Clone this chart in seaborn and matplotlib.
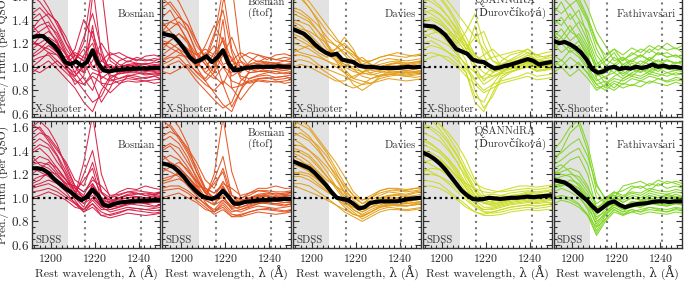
import numpy as np
import pandas as pd
import matplotlib
matplotlib.use("Agg")
import matplotlib.pyplot as plt
from matplotlib.ticker import MultipleLocator
import seaborn as sns

# ---------------- data ----------------
THIN_X = [1191.5, 1195, 1199, 1203, 1207, 1211, 1215, 1219, 1223, 1227, 1231, 1235, 1239, 1243, 1247, 1250]
MEAN_X = [1191.5, 1194, 1196.5, 1199, 1201.5, 1204, 1206.5, 1209, 1211.5, 1214, 1216.5, 1219,
          1221.5, 1224, 1226.5, 1229, 1231.5, 1234, 1236.5, 1239, 1241.5, 1244, 1246.5, 1249.5]

models = ["Bosman", "Bosman\n(ftof)", "Davies", "QSANNdRA\n(Ďurovčíková)", "Fathivavsari"]
colors = ["#d81b43", "#e4521c", "#e39d17", "#cadc1f", "#7fd620"]
surveys = ["X-Shooter", "SDSS"]

bosman_xs_mean = [1.25, 1.26, 1.26, 1.22, 1.18, 1.12, 1.04, 1.02, 1.045, 1.01, 1.04, 1.14,
                  1.03, 0.97, 0.96, 0.97, 0.975, 0.98, 0.98, 0.985, 0.985, 0.985, 0.99, 0.99]
bosman_xs_lines = [
    [1.45, 1.50, 1.42, 1.30, 1.15, 1.05, 1.20, 1.70, 1.10, 0.98, 1.00, 1.02, 1.03, 1.02, 1.04, 1.03],
    [1.30, 1.35, 1.38, 1.25, 1.10, 0.95, 0.85, 0.95, 0.92, 0.88, 0.90, 0.93, 0.92, 0.90, 0.92, 0.93],
    [1.20, 1.18, 1.12, 1.05, 0.98, 0.90, 0.80, 0.70, 0.75, 0.90, 0.95, 0.97, 0.96, 0.94, 0.95, 0.96],
    [1.10, 1.15, 1.22, 1.18, 1.05, 1.15, 1.40, 1.25, 1.00, 0.95, 1.05, 1.08, 1.06, 1.05, 1.07, 1.06],
    [1.55, 1.62, 1.50, 1.35, 1.20, 1.10, 1.05, 1.30, 1.05, 1.00, 0.98, 0.97, 0.99, 1.00, 0.98, 0.99],
    [1.05, 1.08, 1.10, 1.02, 0.95, 0.88, 0.85, 0.92, 0.86, 0.85, 0.88, 0.90, 0.89, 0.88, 0.89, 0.90],
    [1.25, 1.30, 1.35, 1.28, 1.12, 1.00, 0.95, 1.60, 1.68, 1.05, 1.00, 1.01, 1.02, 1.00, 1.01, 1.02],
    [0.95, 1.00, 1.05, 0.98, 0.90, 0.82, 0.70, 0.62, 0.80, 0.92, 0.94, 0.95, 0.95, 0.93, 0.94, 0.95],
    [1.35, 1.28, 1.20, 1.12, 1.08, 1.12, 1.08, 0.98, 0.95, 1.10, 1.12, 1.08, 1.05, 1.09, 1.10, 1.08],
    [1.15, 1.20, 1.25, 1.20, 1.02, 0.92, 1.00, 1.10, 0.90, 0.96, 1.00, 1.05, 1.03, 1.02, 1.00, 1.01],
    [1.40, 1.45, 1.32, 1.20, 1.10, 1.00, 0.90, 0.80, 1.00, 1.02, 0.97, 0.95, 0.98, 0.97, 0.96, 0.97],
    [1.00, 1.05, 1.12, 1.10, 1.00, 1.05, 1.25, 1.45, 1.15, 0.93, 0.90, 0.92, 0.94, 0.95, 0.93, 0.94],
    [1.60, 1.55, 1.45, 1.38, 1.25, 1.08, 0.95, 1.05, 1.20, 1.08, 1.02, 1.00, 1.01, 1.03, 1.02, 1.01],
    [1.18, 1.25, 1.30, 1.22, 1.00, 0.85, 0.92, 1.35, 0.85, 0.78, 0.85, 0.92, 0.90, 0.91, 0.92, 0.90],
    [1.08, 1.12, 1.18, 1.12, 1.02, 1.10, 1.05, 0.88, 0.70, 0.82, 0.98, 1.02, 1.00, 0.98, 0.99, 1.00],
    [1.32, 1.40, 1.45, 1.38, 1.20, 1.05, 1.15, 1.00, 1.05, 1.12, 1.08, 1.04, 1.08, 1.06, 1.05, 1.07],
    [1.22, 1.18, 1.15, 1.10, 1.00, 0.95, 1.10, 1.20, 0.98, 1.00, 0.94, 0.96, 0.97, 0.96, 0.97, 0.98],
    [0.98, 0.95, 1.00, 1.05, 0.98, 0.92, 1.02, 1.15, 1.10, 0.90, 0.86, 0.88, 0.87, 0.88, 0.86, 0.87],
]

bosman_sdss_mean = [1.25, 1.25, 1.24, 1.21, 1.16, 1.12, 1.08, 1.05, 1.01, 0.98, 1.01, 1.07,
                    1.02, 0.94, 0.93, 0.95, 0.96, 0.965, 0.97, 0.97, 0.975, 0.975, 0.98, 0.98]
bosman_sdss_lines = [
    [1.55, 1.60, 1.50, 1.40, 1.30, 1.15, 1.10, 1.30, 1.05, 0.95, 0.97, 0.98, 0.99, 0.98, 0.97, 0.98],
    [1.40, 1.45, 1.42, 1.30, 1.20, 1.05, 0.95, 1.05, 0.92, 0.88, 0.90, 0.92, 0.91, 0.90, 0.91, 0.92],
    [1.25, 1.22, 1.18, 1.12, 1.05, 0.95, 0.90, 0.95, 0.85, 0.86, 0.88, 0.90, 0.89, 0.88, 0.87, 0.88],
    [1.10, 1.12, 1.15, 1.12, 1.08, 1.02, 1.30, 1.70, 1.20, 1.00, 1.02, 1.05, 1.06, 1.05, 1.04, 1.05],
    [1.30, 1.35, 1.32, 1.22, 1.15, 1.08, 1.00, 1.10, 1.00, 0.95, 0.96, 0.98, 0.97, 0.96, 0.97, 0.96],
    [1.05, 1.06, 1.08, 1.05, 1.00, 0.95, 0.88, 0.92, 0.85, 0.83, 0.85, 0.87, 0.86, 0.85, 0.86, 0.87],
    [1.60, 1.65, 1.58, 1.45, 1.25, 1.10, 1.05, 1.15, 1.10, 1.02, 1.03, 1.05, 1.04, 1.02, 1.03, 1.04],
    [1.15, 1.18, 1.20, 1.15, 1.10, 1.00, 0.95, 1.00, 0.93, 0.95, 1.00, 1.02, 1.01, 1.00, 1.02, 1.01],
    [1.35, 1.28, 1.25, 1.18, 1.12, 1.10, 1.05, 1.12, 0.98, 0.92, 0.93, 0.95, 0.94, 0.93, 0.92, 0.94],
    [1.20, 1.25, 1.30, 1.25, 1.15, 1.02, 1.20, 1.40, 1.05, 1.00, 1.05, 1.08, 1.07, 1.10, 1.08, 1.07],
    [1.00, 1.02, 1.05, 1.02, 0.98, 0.92, 0.90, 0.98, 0.90, 0.90, 0.92, 0.94, 0.96, 0.95, 0.93, 0.94],
    [1.45, 1.50, 1.45, 1.35, 1.18, 1.05, 1.00, 1.08, 0.96, 0.97, 0.99, 1.00, 1.00, 0.99, 1.00, 1.01],
    [1.50, 1.55, 1.52, 1.42, 1.28, 1.10, 0.98, 1.02, 0.94, 0.90, 0.92, 0.95, 0.96, 0.95, 0.96, 0.96],
    [1.12, 1.15, 1.22, 1.20, 1.12, 1.00, 0.92, 1.12, 1.00, 0.98, 1.00, 1.02, 1.03, 1.04, 1.03, 1.02],
    [1.28, 1.30, 1.28, 1.20, 1.10, 0.98, 0.88, 0.95, 0.88, 0.85, 0.87, 0.90, 0.91, 0.90, 0.89, 0.90],
    [1.38, 1.42, 1.35, 1.25, 1.15, 1.05, 1.15, 1.25, 0.98, 0.96, 1.00, 1.03, 1.04, 1.02, 1.03, 1.04],
    [1.08, 1.10, 1.12, 1.08, 1.02, 0.96, 0.90, 1.00, 0.92, 0.92, 0.95, 0.97, 0.98, 0.97, 0.96, 0.97],
    [1.62, 1.58, 1.48, 1.36, 1.22, 1.08, 1.02, 1.18, 1.04, 0.98, 0.98, 1.00, 1.01, 1.00, 1.01, 1.00],
]

bosman_ftof_xs_mean = [1.28, 1.27, 1.26, 1.21, 1.15, 1.08, 1.04, 1.06, 1.09, 1.04, 1.08, 1.14,
                       1.03, 0.97, 0.975, 0.99, 0.995, 1.0, 1.0, 1.0, 1.0, 1.005, 1.0, 1.0]
bosman_ftof_xs_lines = [
    [1.50, 1.55, 1.45, 1.30, 1.12, 1.05, 1.25, 1.65, 1.15, 1.00, 1.02, 1.03, 1.04, 1.03, 1.05, 1.04],
    [1.35, 1.38, 1.35, 1.22, 1.05, 0.95, 0.90, 1.00, 0.88, 0.85, 0.88, 0.90, 0.91, 0.89, 0.90, 0.91],
    [1.22, 1.20, 1.15, 1.05, 0.95, 0.88, 0.78, 0.68, 0.62, 0.80, 0.90, 0.92, 0.93, 0.91, 0.92, 0.93],
    [1.10, 1.15, 1.20, 1.15, 1.05, 1.18, 1.35, 1.22, 1.00, 0.95, 1.04, 1.10, 1.08, 1.06, 1.08, 1.07],
    [1.60, 1.65, 1.55, 1.40, 1.22, 1.08, 1.02, 1.25, 1.05, 1.00, 0.98, 0.98, 1.00, 1.01, 0.99, 1.00],
    [1.05, 1.08, 1.08, 1.00, 0.92, 0.85, 0.80, 0.88, 0.82, 0.84, 0.87, 0.89, 0.88, 0.87, 0.88, 0.89],
    [1.28, 1.32, 1.38, 1.30, 1.12, 1.02, 1.05, 1.55, 1.70, 1.10, 1.00, 1.02, 1.03, 1.01, 1.02, 1.03],
    [0.98, 1.02, 1.05, 0.98, 0.88, 0.80, 0.72, 0.65, 0.70, 0.88, 0.95, 0.96, 0.96, 0.94, 0.95, 0.96],
    [1.38, 1.30, 1.22, 1.15, 1.10, 1.15, 1.10, 1.00, 0.95, 1.08, 1.12, 1.10, 1.06, 1.10, 1.11, 1.09],
    [1.18, 1.22, 1.28, 1.22, 1.05, 0.95, 1.02, 1.12, 0.92, 0.97, 1.02, 1.05, 1.04, 1.03, 1.01, 1.02],
    [1.42, 1.48, 1.35, 1.22, 1.10, 1.02, 0.92, 0.85, 1.02, 1.04, 0.98, 0.96, 0.99, 0.98, 0.97, 0.98],
    [1.02, 1.05, 1.10, 1.08, 1.00, 1.08, 1.28, 1.48, 1.12, 0.92, 0.90, 0.93, 0.95, 0.96, 0.94, 0.95],
    [1.58, 1.52, 1.42, 1.35, 1.22, 1.05, 0.95, 1.10, 1.25, 1.05, 1.00, 1.00, 1.02, 1.03, 1.02, 1.01],
    [1.15, 1.22, 1.28, 1.20, 1.00, 0.88, 0.95, 1.40, 0.82, 0.72, 0.82, 0.90, 0.90, 0.91, 0.92, 0.90],
    [1.06, 1.10, 1.15, 1.10, 1.00, 1.12, 1.08, 0.85, 0.66, 0.80, 0.97, 1.02, 1.00, 0.98, 0.99, 1.00],
    [1.30, 1.38, 1.42, 1.35, 1.18, 1.08, 1.18, 1.02, 1.05, 1.12, 1.08, 1.04, 1.08, 1.06, 1.05, 1.07],
    [1.20, 1.16, 1.12, 1.08, 1.02, 0.98, 1.12, 1.22, 0.98, 1.00, 0.95, 0.96, 0.97, 0.96, 0.97, 0.98],
    [0.96, 0.94, 0.98, 1.02, 0.96, 0.90, 1.00, 1.12, 1.08, 0.90, 0.86, 0.88, 0.87, 0.88, 0.86, 0.87],
]

bosman_ftof_sdss_mean = [1.29, 1.28, 1.26, 1.22, 1.17, 1.11, 1.06, 1.02, 1.00, 0.99, 1.01, 1.06,
                         1.01, 0.95, 0.95, 0.965, 0.97, 0.975, 0.98, 0.98, 0.985, 0.985, 0.99, 0.99]
bosman_ftof_sdss_lines = [
    [1.58, 1.62, 1.52, 1.42, 1.30, 1.15, 1.08, 1.25, 1.02, 0.95, 0.97, 0.99, 0.99, 0.98, 0.98, 0.99],
    [1.42, 1.46, 1.42, 1.30, 1.18, 1.04, 0.95, 1.02, 0.90, 0.88, 0.91, 0.93, 0.92, 0.91, 0.92, 0.93],
    [1.25, 1.22, 1.18, 1.10, 1.02, 0.94, 0.88, 0.92, 0.84, 0.86, 0.88, 0.90, 0.90, 0.89, 0.88, 0.89],
    [1.12, 1.14, 1.16, 1.12, 1.06, 1.00, 1.20, 1.68, 1.22, 1.00, 1.02, 1.06, 1.06, 1.05, 1.05, 1.06],
    [1.32, 1.36, 1.32, 1.22, 1.14, 1.06, 1.00, 1.08, 0.98, 0.95, 0.97, 0.99, 0.98, 0.97, 0.98, 0.97],
    [1.06, 1.07, 1.08, 1.04, 0.98, 0.92, 0.86, 0.90, 0.84, 0.84, 0.86, 0.88, 0.87, 0.86, 0.87, 0.88],
    [1.65, 1.70, 1.60, 1.45, 1.22, 1.08, 1.04, 1.12, 1.08, 1.02, 1.04, 1.06, 1.05, 1.03, 1.04, 1.05],
    [1.16, 1.18, 1.20, 1.14, 1.08, 0.98, 0.94, 0.98, 0.92, 0.95, 1.00, 1.02, 1.02, 1.01, 1.02, 1.02],
    [1.36, 1.30, 1.26, 1.18, 1.10, 1.08, 1.04, 1.10, 0.96, 0.92, 0.94, 0.96, 0.95, 0.94, 0.93, 0.95],
    [1.22, 1.26, 1.30, 1.24, 1.12, 1.00, 1.15, 1.35, 1.02, 0.99, 1.04, 1.08, 1.08, 1.10, 1.08, 1.08],
    [1.00, 1.02, 1.04, 1.00, 0.96, 0.90, 0.88, 0.96, 0.88, 0.90, 0.93, 0.95, 0.96, 0.95, 0.94, 0.95],
    [1.48, 1.52, 1.46, 1.34, 1.16, 1.04, 0.99, 1.05, 0.95, 0.97, 0.99, 1.01, 1.01, 1.00, 1.01, 1.02],
    [1.52, 1.56, 1.52, 1.40, 1.26, 1.08, 0.98, 1.00, 0.93, 0.90, 0.92, 0.95, 0.96, 0.95, 0.96, 0.96],
    [1.14, 1.16, 1.22, 1.18, 1.10, 0.98, 0.94, 1.10, 0.98, 0.98, 1.00, 1.02, 1.03, 1.04, 1.03, 1.02],
    [1.28, 1.30, 1.26, 1.18, 1.08, 0.96, 0.88, 0.94, 0.86, 0.85, 0.88, 0.90, 0.91, 0.90, 0.89, 0.90],
    [1.40, 1.44, 1.36, 1.26, 1.14, 1.04, 1.12, 1.22, 0.97, 0.96, 1.00, 1.03, 1.04, 1.02, 1.03, 1.04],
    [1.08, 1.10, 1.10, 1.06, 1.00, 0.95, 0.90, 0.98, 0.91, 0.92, 0.95, 0.97, 0.98, 0.97, 0.96, 0.97],
    [1.66, 1.60, 1.50, 1.38, 1.22, 1.06, 1.00, 1.14, 1.02, 0.98, 0.98, 1.00, 1.01, 1.00, 1.01, 1.00],
]

davies_xs_mean = [1.32, 1.30, 1.28, 1.24, 1.19, 1.15, 1.12, 1.10, 1.11, 1.06, 1.05, 1.04,
                  1.01, 1.0, 1.0, 0.995, 0.99, 0.99, 0.99, 0.99, 0.995, 1.0, 0.995, 1.0]
davies_xs_lines = [
    [1.65, 1.62, 1.55, 1.45, 1.35, 1.25, 1.15, 1.08, 1.02, 1.00, 1.02, 1.04, 1.05, 1.03, 1.04, 1.05],
    [1.50, 1.48, 1.42, 1.35, 1.25, 1.18, 1.10, 1.02, 0.95, 0.93, 0.95, 0.97, 0.96, 0.95, 0.96, 0.97],
    [1.40, 1.38, 1.35, 1.25, 1.15, 1.10, 1.05, 0.98, 0.92, 0.90, 0.92, 0.94, 0.93, 0.92, 0.93, 0.94],
    [1.30, 1.28, 1.22, 1.15, 1.10, 1.12, 1.15, 1.10, 1.05, 1.05, 1.08, 1.10, 1.09, 1.08, 1.10, 1.11],
    [1.20, 1.18, 1.15, 1.10, 1.05, 1.00, 0.95, 0.90, 0.88, 0.86, 0.88, 0.90, 0.89, 0.88, 0.89, 0.90],
    [1.10, 1.10, 1.08, 1.02, 0.98, 0.95, 0.92, 0.88, 0.85, 0.86, 0.90, 0.92, 0.93, 0.92, 0.91, 0.92],
    [1.55, 1.60, 1.50, 1.38, 1.20, 1.05, 1.00, 1.05, 1.08, 1.02, 0.99, 1.00, 1.01, 1.02, 1.00, 1.01],
    [1.25, 1.22, 1.18, 1.12, 1.08, 1.15, 1.20, 1.12, 1.02, 0.98, 1.00, 1.02, 1.03, 1.01, 1.02, 1.03],
    [1.35, 1.32, 1.30, 1.25, 1.20, 1.10, 0.98, 0.90, 0.95, 1.00, 1.05, 1.07, 1.06, 1.05, 1.06, 1.07],
    [1.15, 1.12, 1.10, 1.08, 1.05, 1.02, 1.00, 0.96, 0.94, 0.95, 0.97, 0.98, 0.98, 0.97, 0.98, 0.99],
    [1.45, 1.42, 1.38, 1.30, 1.22, 1.18, 1.12, 1.05, 1.00, 0.97, 0.96, 0.95, 0.96, 0.97, 0.96, 0.97],
    [1.05, 1.06, 1.04, 1.00, 0.95, 0.90, 0.85, 0.82, 0.85, 0.90, 0.93, 0.94, 0.94, 0.93, 0.94, 0.95],
    [1.62, 1.58, 1.50, 1.40, 1.30, 1.22, 1.18, 1.12, 1.05, 1.02, 1.00, 1.02, 1.03, 1.02, 1.03, 1.04],
    [1.28, 1.25, 1.20, 1.15, 1.12, 1.05, 0.95, 0.85, 0.80, 0.85, 0.92, 0.96, 0.95, 0.94, 0.95, 0.96],
    [1.48, 1.45, 1.40, 1.30, 1.18, 1.08, 1.02, 1.00, 1.02, 1.05, 1.08, 1.10, 1.12, 1.10, 1.09, 1.10],
    [1.12, 1.15, 1.18, 1.15, 1.10, 1.06, 1.02, 0.98, 0.96, 0.98, 1.00, 1.01, 1.00, 0.99, 1.00, 1.00],
    [1.38, 1.35, 1.28, 1.20, 1.12, 1.15, 1.25, 1.15, 1.00, 0.94, 0.92, 0.93, 0.95, 0.96, 0.95, 0.96],
    [1.00, 1.02, 1.00, 0.96, 0.92, 0.88, 0.88, 0.92, 0.95, 0.98, 1.00, 1.02, 1.04, 1.03, 1.04, 1.05],
]

davies_sdss_mean = [1.31, 1.29, 1.27, 1.25, 1.21, 1.16, 1.11, 1.05, 1.0, 0.99, 0.98, 0.95,
                    0.91, 0.92, 0.955, 0.965, 0.97, 0.97, 0.97, 0.97, 0.98, 0.99, 0.995, 1.0]
davies_sdss_lines = [
    [1.65, 1.62, 1.58, 1.48, 1.38, 1.25, 1.12, 1.02, 0.95, 0.98, 1.02, 1.05, 1.04, 1.03, 1.05, 1.06],
    [1.55, 1.52, 1.48, 1.40, 1.30, 1.18, 1.05, 0.95, 0.88, 0.92, 0.96, 0.98, 0.97, 0.96, 0.98, 0.99],
    [1.42, 1.40, 1.36, 1.28, 1.18, 1.08, 0.98, 0.90, 0.85, 0.88, 0.92, 0.94, 0.93, 0.93, 0.94, 0.95],
    [1.30, 1.30, 1.28, 1.22, 1.15, 1.10, 1.05, 1.00, 0.95, 1.00, 1.06, 1.08, 1.07, 1.06, 1.08, 1.09],
    [1.22, 1.20, 1.18, 1.12, 1.06, 1.00, 0.94, 0.88, 0.82, 0.86, 0.90, 0.92, 0.91, 0.90, 0.91, 0.92],
    [1.12, 1.12, 1.10, 1.05, 1.00, 0.94, 0.88, 0.84, 0.80, 0.84, 0.88, 0.90, 0.90, 0.89, 0.90, 0.91],
    [1.60, 1.66, 1.60, 1.50, 1.40, 1.30, 1.18, 1.05, 0.98, 1.00, 1.04, 1.06, 1.06, 1.05, 1.06, 1.07],
    [1.38, 1.35, 1.30, 1.22, 1.12, 1.02, 0.95, 0.92, 0.90, 0.94, 0.98, 1.00, 0.99, 0.98, 0.99, 1.00],
    [1.50, 1.46, 1.40, 1.32, 1.22, 1.10, 1.00, 0.96, 0.92, 0.95, 0.97, 0.98, 0.98, 0.97, 0.98, 0.99],
    [1.18, 1.18, 1.15, 1.10, 1.05, 1.00, 0.97, 0.92, 0.88, 0.92, 0.96, 0.98, 1.00, 1.01, 1.00, 1.01],
    [1.28, 1.26, 1.22, 1.15, 1.08, 1.02, 0.96, 0.90, 0.86, 0.90, 0.93, 0.95, 0.94, 0.93, 0.94, 0.95],
    [1.45, 1.44, 1.40, 1.34, 1.26, 1.16, 1.04, 0.94, 0.90, 0.96, 1.00, 1.02, 1.02, 1.01, 1.02, 1.03],
    [1.62, 1.58, 1.52, 1.42, 1.30, 1.20, 1.10, 1.02, 0.98, 1.02, 1.06, 1.08, 1.08, 1.07, 1.08, 1.08],
    [1.35, 1.32, 1.26, 1.18, 1.10, 1.00, 0.92, 0.86, 0.84, 0.88, 0.92, 0.94, 0.94, 0.93, 0.95, 0.96],
    [1.20, 1.22, 1.20, 1.15, 1.08, 1.02, 0.98, 0.95, 0.92, 0.96, 1.00, 1.02, 1.03, 1.02, 1.04, 1.05],
    [1.52, 1.55, 1.50, 1.44, 1.35, 1.22, 1.08, 0.98, 0.92, 0.96, 0.99, 1.01, 1.00, 0.99, 1.00, 1.01],
    [1.10, 1.08, 1.05, 1.02, 0.98, 0.94, 0.90, 0.86, 0.84, 0.88, 0.92, 0.93, 0.94, 0.95, 0.96, 0.97],
    [1.40, 1.38, 1.34, 1.26, 1.18, 1.10, 1.02, 0.96, 0.90, 0.92, 0.94, 0.96, 0.96, 0.95, 0.96, 0.97],
]

durov_xs_mean = [1.35, 1.345, 1.34, 1.31, 1.27, 1.21, 1.15, 1.13, 1.11, 1.06, 1.045, 1.04,
                 1.01, 0.985, 0.995, 1.01, 1.02, 1.035, 1.05, 1.065, 1.05, 1.02, 1.03, 1.04]
durov_xs_lines = [
    [1.70, 1.68, 1.60, 1.50, 1.38, 1.25, 1.10, 1.05, 1.08, 1.10, 1.12, 1.14, 1.12, 1.10, 1.12, 1.13],
    [1.55, 1.58, 1.52, 1.42, 1.30, 1.15, 0.95, 0.85, 0.90, 0.95, 1.00, 1.02, 1.05, 1.01, 1.02, 1.03],
    [1.40, 1.42, 1.38, 1.30, 1.18, 1.05, 0.80, 0.65, 0.75, 0.90, 0.95, 0.98, 1.00, 0.96, 0.97, 0.98],
    [1.30, 1.32, 1.30, 1.25, 1.20, 1.30, 1.45, 1.20, 1.05, 1.02, 1.06, 1.10, 1.15, 1.08, 1.09, 1.10],
    [1.20, 1.22, 1.18, 1.12, 1.05, 0.98, 0.88, 0.80, 0.85, 0.88, 0.90, 0.92, 0.95, 0.92, 0.93, 0.94],
    [1.10, 1.12, 1.10, 1.05, 1.00, 0.92, 0.85, 0.78, 0.82, 0.86, 0.88, 0.90, 0.92, 0.89, 0.90, 0.91],
    [1.62, 1.66, 1.62, 1.55, 1.45, 1.35, 1.25, 1.15, 1.05, 1.00, 1.02, 1.05, 1.08, 1.04, 1.05, 1.06],
    [1.48, 1.45, 1.40, 1.32, 1.22, 1.12, 1.02, 0.95, 0.92, 0.96, 1.00, 1.03, 1.06, 1.00, 1.01, 1.02],
    [1.25, 1.28, 1.30, 1.28, 1.22, 1.12, 1.35, 1.10, 0.95, 0.98, 1.03, 1.05, 1.10, 1.05, 1.04, 1.05],
    [1.35, 1.32, 1.28, 1.20, 1.12, 1.00, 0.90, 0.92, 1.00, 1.02, 1.00, 0.98, 1.02, 0.99, 1.00, 1.01],
    [1.52, 1.50, 1.45, 1.38, 1.25, 1.18, 1.08, 1.00, 0.96, 0.97, 0.99, 1.01, 1.04, 1.00, 1.01, 1.02],
    [1.05, 1.08, 1.10, 1.08, 1.02, 0.95, 0.70, 0.62, 0.78, 0.92, 0.96, 0.98, 1.01, 0.97, 0.98, 0.99],
    [1.66, 1.62, 1.58, 1.48, 1.35, 1.20, 1.00, 0.88, 0.95, 1.05, 1.10, 1.12, 1.15, 1.10, 1.08, 1.10],
    [1.38, 1.40, 1.36, 1.30, 1.25, 1.15, 1.25, 1.30, 1.12, 1.00, 0.98, 1.00, 1.04, 1.01, 1.02, 1.03],
    [1.15, 1.18, 1.16, 1.12, 1.08, 0.95, 0.75, 0.70, 0.85, 0.95, 0.98, 1.00, 1.03, 0.99, 1.00, 1.01],
    [1.58, 1.55, 1.50, 1.42, 1.32, 1.20, 1.10, 1.02, 1.00, 1.02, 1.05, 1.08, 1.12, 1.06, 1.07, 1.08],
    [1.28, 1.25, 1.22, 1.18, 1.10, 1.02, 0.95, 0.90, 0.92, 0.94, 0.96, 0.98, 1.00, 0.97, 0.98, 0.99],
    [1.45, 1.48, 1.44, 1.36, 1.28, 1.20, 1.05, 1.10, 1.15, 1.08, 1.04, 1.06, 1.10, 1.06, 1.05, 1.06],
]

durov_sdss_mean = [1.38, 1.36, 1.33, 1.29, 1.24, 1.18, 1.12, 1.06, 1.02, 0.99, 0.985, 0.99,
                   1.0, 0.995, 0.99, 0.995, 1.0, 1.0, 1.005, 1.01, 1.005, 1.01, 1.015, 1.02]
durov_sdss_lines = [
    [1.75, 1.70, 1.62, 1.52, 1.40, 1.25, 1.12, 1.08, 1.06, 1.05, 1.06, 1.07, 1.08, 1.07, 1.08, 1.09],
    [1.60, 1.58, 1.52, 1.42, 1.30, 1.15, 1.02, 0.96, 0.95, 0.96, 0.98, 0.99, 1.00, 0.99, 1.00, 1.01],
    [1.45, 1.42, 1.38, 1.30, 1.20, 1.08, 0.96, 0.88, 0.88, 0.90, 0.92, 0.93, 0.94, 0.93, 0.94, 0.95],
    [1.35, 1.35, 1.32, 1.26, 1.18, 1.12, 1.08, 1.05, 1.04, 1.06, 1.08, 1.10, 1.10, 1.09, 1.10, 1.11],
    [1.25, 1.22, 1.18, 1.12, 1.05, 0.98, 0.92, 0.88, 0.87, 0.88, 0.90, 0.91, 0.92, 0.91, 0.92, 0.93],
    [1.15, 1.14, 1.12, 1.06, 1.00, 0.94, 0.88, 0.85, 0.85, 0.86, 0.88, 0.89, 0.90, 0.89, 0.90, 0.90],
    [1.66, 1.68, 1.62, 1.55, 1.45, 1.32, 1.15, 1.02, 0.98, 0.99, 1.01, 1.02, 1.03, 1.02, 1.03, 1.04],
    [1.50, 1.46, 1.40, 1.32, 1.22, 1.10, 1.00, 0.95, 0.94, 0.96, 0.99, 1.01, 1.02, 1.01, 1.02, 1.03],
    [1.30, 1.32, 1.30, 1.25, 1.18, 1.08, 0.98, 0.92, 0.92, 0.94, 0.96, 0.97, 0.98, 0.97, 0.98, 0.99],
    [1.40, 1.38, 1.34, 1.26, 1.16, 1.05, 1.00, 1.02, 1.03, 1.02, 1.01, 1.02, 1.04, 1.03, 1.03, 1.04],
    [1.55, 1.52, 1.48, 1.40, 1.30, 1.18, 1.06, 0.98, 0.96, 0.97, 0.99, 1.00, 1.01, 1.00, 1.01, 1.02],
    [1.20, 1.20, 1.18, 1.14, 1.08, 1.00, 0.93, 0.90, 0.91, 0.93, 0.95, 0.96, 0.97, 0.96, 0.97, 0.98],
    [1.70, 1.66, 1.58, 1.48, 1.36, 1.22, 1.08, 1.00, 0.98, 1.00, 1.02, 1.03, 1.05, 1.04, 1.05, 1.06],
    [1.48, 1.45, 1.40, 1.33, 1.24, 1.12, 1.02, 0.98, 1.00, 1.02, 1.04, 1.05, 1.06, 1.05, 1.06, 1.07],
    [1.32, 1.28, 1.24, 1.18, 1.10, 1.02, 0.95, 0.90, 0.90, 0.92, 0.94, 0.95, 0.96, 0.95, 0.96, 0.96],
    [1.62, 1.60, 1.55, 1.46, 1.35, 1.20, 1.05, 0.96, 0.93, 0.95, 0.97, 0.98, 0.99, 0.98, 0.99, 1.00],
    [1.22, 1.25, 1.24, 1.20, 1.12, 1.04, 0.98, 0.96, 0.97, 0.99, 1.00, 1.01, 1.02, 1.01, 1.02, 1.03],
    [1.10, 1.10, 1.08, 1.04, 0.98, 0.92, 0.88, 0.86, 0.88, 0.90, 0.92, 0.93, 0.94, 0.93, 0.94, 0.95],
]

fathi_xs_mean = [1.22, 1.20, 1.21, 1.19, 1.16, 1.12, 1.06, 0.98, 0.95, 0.96, 0.99, 1.0,
                 0.98, 0.99, 0.985, 1.0, 0.99, 1.0, 1.02, 1.0, 1.01, 0.995, 1.0, 0.99]
fathi_xs_lines = [
    [1.70, 1.62, 1.68, 1.55, 1.40, 1.20, 1.10, 1.15, 1.05, 1.12, 1.08, 1.15, 1.10, 1.12, 1.08, 1.10],
    [1.45, 1.55, 1.40, 1.48, 1.25, 1.05, 0.95, 1.00, 0.92, 0.98, 0.95, 1.00, 0.96, 1.02, 0.98, 0.97],
    [1.30, 1.25, 1.35, 1.22, 1.10, 0.90, 0.82, 0.88, 0.85, 0.90, 0.88, 0.92, 0.90, 0.88, 0.91, 0.90],
    [1.15, 1.20, 1.12, 1.18, 1.05, 0.95, 1.00, 1.08, 1.02, 1.06, 1.10, 1.05, 1.12, 1.08, 1.10, 1.06],
    [1.05, 1.00, 1.08, 1.02, 0.95, 0.85, 0.80, 0.86, 0.82, 0.85, 0.83, 0.88, 0.86, 0.84, 0.87, 0.85],
    [1.35, 1.42, 1.30, 1.38, 1.22, 1.00, 1.05, 1.12, 1.00, 1.05, 1.02, 1.08, 1.04, 1.06, 1.03, 1.05],
    [1.62, 1.70, 1.58, 1.65, 1.50, 1.30, 1.18, 1.05, 1.08, 1.00, 1.05, 1.02, 1.06, 1.00, 1.04, 1.02],
    [1.20, 1.12, 1.18, 1.10, 1.00, 0.88, 0.92, 0.95, 0.90, 0.94, 0.92, 0.96, 0.94, 0.92, 0.95, 0.93],
    [0.95, 1.00, 0.92, 0.98, 0.90, 0.80, 0.85, 0.90, 0.88, 0.92, 0.90, 0.94, 0.92, 0.95, 0.93, 0.94],
    [1.50, 1.45, 1.52, 1.40, 1.30, 1.10, 1.00, 0.95, 1.02, 0.98, 1.00, 0.97, 1.02, 0.99, 1.01, 1.00],
    [1.25, 1.32, 1.22, 1.28, 1.15, 0.98, 0.90, 1.00, 1.06, 1.10, 1.15, 1.12, 1.18, 1.14, 1.16, 1.12],
    [1.10, 1.05, 1.14, 1.08, 0.98, 0.85, 0.88, 0.82, 0.90, 0.95, 0.98, 0.96, 1.00, 0.98, 0.97, 0.99],
    [1.55, 1.60, 1.52, 1.58, 1.42, 1.22, 1.06, 1.02, 1.08, 1.04, 1.10, 1.06, 1.12, 1.08, 1.10, 1.07],
    [1.40, 1.35, 1.45, 1.32, 1.18, 0.96, 0.86, 0.92, 0.96, 0.92, 0.98, 0.94, 0.99, 0.95, 0.97, 0.96],
    [1.18, 1.25, 1.15, 1.22, 1.08, 0.92, 0.95, 1.02, 0.98, 1.03, 1.00, 1.06, 1.02, 1.05, 1.03, 1.04],
    [1.68, 1.58, 1.66, 1.52, 1.38, 1.15, 1.02, 0.98, 0.94, 0.99, 0.96, 1.01, 0.98, 1.00, 0.97, 0.99],
    [1.00, 1.06, 0.98, 1.04, 0.94, 0.82, 0.84, 0.80, 0.86, 0.84, 0.88, 0.86, 0.90, 0.87, 0.89, 0.88],
    [1.28, 1.20, 1.30, 1.25, 1.12, 1.02, 1.08, 1.15, 1.10, 1.16, 1.12, 1.18, 1.14, 1.20, 1.15, 1.18],
]

fathi_sdss_mean = [1.15, 1.14, 1.13, 1.10, 1.06, 1.02, 0.98, 0.93, 0.885, 0.92, 0.955, 0.97,
                   0.94, 0.92, 0.935, 0.945, 0.95, 0.955, 0.965, 0.97, 0.97, 0.965, 0.97, 0.97]
fathi_sdss_lines = [
    [1.30, 1.40, 1.55, 1.62, 1.40, 1.05, 0.95, 1.00, 0.98, 1.02, 1.00, 1.04, 1.02, 1.00, 1.03, 1.01],
    [1.20, 1.25, 1.32, 1.35, 1.20, 0.90, 0.92, 0.95, 0.90, 0.94, 0.92, 0.96, 0.94, 0.93, 0.95, 0.94],
    [1.10, 1.12, 1.10, 1.02, 0.90, 0.72, 0.85, 0.92, 0.88, 0.90, 0.88, 0.92, 0.90, 0.88, 0.91, 0.90],
    [1.00, 1.02, 1.00, 0.95, 0.85, 0.68, 0.80, 0.88, 0.85, 0.88, 0.86, 0.88, 0.87, 0.86, 0.88, 0.87],
    [1.25, 1.28, 1.22, 1.15, 1.05, 0.90, 0.98, 1.05, 1.00, 1.08, 1.10, 1.06, 1.12, 1.08, 1.10, 1.08],
    [1.15, 1.18, 1.20, 1.18, 1.08, 0.95, 1.00, 1.02, 0.96, 1.00, 0.98, 1.02, 1.00, 1.03, 1.01, 1.00],
    [1.05, 1.08, 1.05, 1.00, 0.92, 0.78, 0.88, 0.94, 0.90, 0.92, 0.94, 0.96, 0.95, 0.94, 0.96, 0.95],
    [1.35, 1.38, 1.45, 1.50, 1.35, 1.10, 1.00, 1.05, 1.02, 1.05, 1.04, 1.08, 1.06, 1.05, 1.07, 1.06],
    [0.95, 0.98, 0.96, 0.92, 0.85, 0.75, 0.82, 0.90, 0.86, 0.88, 0.90, 0.92, 0.91, 0.90, 0.92, 0.91],
    [1.18, 1.15, 1.12, 1.08, 0.98, 0.82, 0.90, 0.98, 0.92, 0.96, 0.94, 0.98, 0.97, 0.96, 0.98, 0.97],
    [1.12, 1.10, 1.15, 1.12, 1.02, 0.86, 0.92, 1.00, 1.10, 1.12, 1.14, 1.10, 1.15, 1.12, 1.14, 1.12],
    [1.22, 1.20, 1.18, 1.10, 1.00, 0.80, 0.86, 0.92, 0.88, 0.95, 0.97, 1.00, 0.98, 0.99, 1.00, 0.98],
    [1.40, 1.48, 1.60, 1.66, 1.45, 1.12, 0.98, 1.02, 1.00, 1.04, 1.02, 1.06, 1.04, 1.03, 1.05, 1.04],
    [1.08, 1.10, 1.12, 1.08, 0.96, 0.76, 0.86, 0.94, 0.90, 0.93, 0.92, 0.95, 0.94, 0.93, 0.95, 0.94],
    [1.28, 1.32, 1.38, 1.42, 1.28, 1.00, 0.96, 1.00, 0.96, 1.00, 0.98, 1.02, 1.00, 1.02, 1.00, 1.01],
    [1.02, 1.00, 0.98, 0.94, 0.86, 0.70, 0.82, 0.90, 0.86, 0.90, 0.88, 0.90, 0.89, 0.88, 0.90, 0.89],
    [1.20, 1.22, 1.25, 1.22, 1.10, 0.92, 0.96, 1.04, 1.06, 1.10, 1.08, 1.12, 1.10, 1.14, 1.12, 1.10],
    [1.15, 1.12, 1.10, 1.05, 0.95, 0.84, 0.88, 0.95, 0.92, 0.97, 0.96, 0.99, 0.98, 1.00, 0.99, 0.98],
]

panel_means = [
    [bosman_xs_mean, bosman_ftof_xs_mean, davies_xs_mean, durov_xs_mean, fathi_xs_mean],
    [bosman_sdss_mean, bosman_ftof_sdss_mean, davies_sdss_mean, durov_sdss_mean, fathi_sdss_mean],
]
panel_lines = [
    [bosman_xs_lines, bosman_ftof_xs_lines, davies_xs_lines, durov_xs_lines, fathi_xs_lines],
    [bosman_sdss_lines, bosman_ftof_sdss_lines, davies_sdss_lines, durov_sdss_lines, fathi_sdss_lines],
]

LYA = 1215.67
NV = 1240.8
GREY_END = 1208.0

# ---------------- style ----------------
sns.set_style("ticks")
plt.rcParams["font.family"] = ["cmr10", "DejaVu Serif"]
plt.rcParams["mathtext.fontset"] = "cm"
plt.rcParams["axes.unicode_minus"] = False
plt.rcParams["axes.formatter.use_mathtext"] = True

W, H = 691, 281
fig = plt.figure(figsize=(W / 100, H / 100), dpi=100)

left_px, right_px, gap_px = 32, 682, 2
pw = (right_px - left_px - 4 * gap_px) / 5
rows_px = [(-10, 117), (121, 248)]  # top, bottom in pixels from top

for r in range(2):
    top, bot = rows_px[r]
    for c in range(5):
        x0 = left_px + c * (pw + gap_px)
        ax = fig.add_axes([x0 / W, (H - bot) / H, pw / W, (bot - top) / H])
        ax.axvspan(1191.5, GREY_END, color="#e2e2e2", lw=0, zorder=0)

        rows = []
        for i, line in enumerate(panel_lines[r][c]):
            for xv, yv in zip(THIN_X, line):
                rows.append((i, xv, yv))
        df = pd.DataFrame(rows, columns=["qso", "wl", "ratio"])
        sns.lineplot(data=df, x="wl", y="ratio", units="qso", estimator=None,
                     color=colors[c], lw=0.75, alpha=0.95, ax=ax, legend=False, sort=False, zorder=2)

        ax.axvline(LYA, color="#7a7a7a", ls=(0, (1, 2)), lw=1.5, zorder=3)
        ax.axvline(NV, color="#7a7a7a", ls=(0, (1, 2)), lw=1.5, zorder=3)
        ax.axhline(1.0, color="black", ls=(0, (1, 1.5)), lw=1.6, zorder=4)

        dm = pd.DataFrame({"wl": MEAN_X, "ratio": panel_means[r][c]})
        sns.lineplot(data=dm, x="wl", y="ratio", color="black", lw=3.0, ax=ax, zorder=5)

        ax.set_xlim(1191.5, 1249.8)
        ax.set_ylim(0.575, 1.65)
        ax.xaxis.set_major_locator(MultipleLocator(20))
        ax.xaxis.set_minor_locator(MultipleLocator(2.5))
        ax.yaxis.set_major_locator(MultipleLocator(0.2))
        ax.yaxis.set_minor_locator(MultipleLocator(0.05))
        ax.tick_params(which="both", direction="in", top=True, right=True,
                       color="#333333", width=0.8)
        ax.tick_params(which="major", length=4)
        ax.tick_params(which="minor", length=2)
        ax.tick_params(axis="y", labelsize=9.5, pad=2)
        ax.tick_params(axis="x", labelsize=8.5, pad=3)
        for s in ax.spines.values():
            s.set_color("#333333")
            s.set_linewidth(1.0)

        if c == 0:
            ax.set_ylabel("Pred./Truth (per QSO)", fontsize=8.2, labelpad=1)
        else:
            ax.set_ylabel("")
            ax.tick_params(labelleft=False)
        if r == 1:
            ax.set_xlabel("Rest wavelength, λ (Å)", fontsize=8.6, labelpad=1)
        else:
            ax.set_xlabel("")
            ax.tick_params(labelbottom=False)

        ax.text(0.955, 0.775, models[c], transform=ax.transAxes, ha="right", va="bottom",
                multialignment="left", linespacing=1.0, fontsize=7.8, color="#333333", zorder=6)
        ax.text(0.025, 0.02, surveys[r], transform=ax.transAxes, ha="left", va="bottom",
                fontsize=7.8, color="#333333", zorder=6)

fig.savefig("out.png", dpi=100)
